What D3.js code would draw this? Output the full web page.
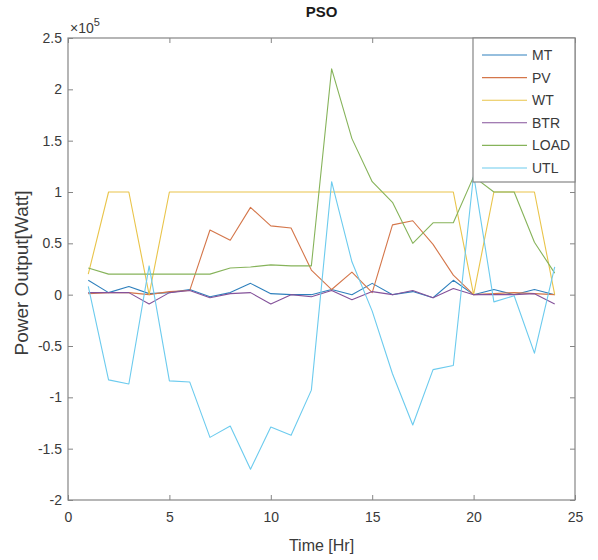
<!DOCTYPE html>
<html>
<head>
<meta charset="utf-8">
<script src="https://cdn.jsdelivr.net/npm/d3@7"></script>
<style>
  html, body { margin: 0; padding: 0; background: #fff; }
  svg { display: block; font-family: "Liberation Sans", Arial, Helvetica, sans-serif; }
</style>
</head>
<body>
<div id="chart"></div>
<script>
// ---- data (power in units of 10^5 W) ----
const hours = [1,2,3,4,5,6,7,8,9,10,11,12,13,14,15,16,17,18,19,20,21,22,23,24];
const seriesNames = ["MT", "PV", "WT", "BTR", "LOAD", "UTL"];
const MT   = [0.14,0.02,0.08,0.01,0.02,0.05,-0.02,0.02,0.11,0.01,0.00,0.00,0.05,0.00,0.11,0.00,0.03,-0.03,0.14,0.00,0.05,0.00,0.05,0.00];
const PV   = [0.01,0.02,0.02,0.00,0.03,0.04,0.63,0.53,0.85,0.67,0.65,0.24,0.05,0.22,0.02,0.68,0.72,0.49,0.19,0.00,0.01,0.02,0.01,0.00];
const WT   = [0.20,1.00,1.00,0.00,1.00,1.00,1.00,1.00,1.00,1.00,1.00,1.00,1.00,1.00,1.00,1.00,1.00,1.00,1.00,0.00,1.00,1.00,1.00,0.00];
const BTR  = [0.02,0.02,0.02,-0.09,0.02,0.04,-0.03,0.01,0.02,-0.09,0.00,-0.02,0.04,-0.05,0.03,0.00,0.04,-0.03,0.06,0.00,0.00,0.00,0.01,-0.09];
const LOAD = [0.26,0.20,0.20,0.20,0.20,0.20,0.20,0.26,0.27,0.29,0.28,0.28,2.20,1.52,1.10,0.90,0.50,0.70,0.70,1.15,1.00,1.00,0.51,0.21];
const UTL  = [0.08,-0.83,-0.87,0.28,-0.84,-0.85,-1.39,-1.28,-1.70,-1.29,-1.37,-0.93,1.10,0.32,-0.16,-0.77,-1.27,-0.73,-0.69,1.17,-0.07,-0.01,-0.57,0.27];
const xTicks = [0,5,10,15,20,25];
const yTicks = [-2,-1.5,-1,-0.5,0,0.5,1,1.5,2,2.5];
const yTickLabels = ["-2","-1.5","-1","-0.5","0","0.5","1","1.5","2","2.5"];
const colors = ["#2f80bd", "#d4764a", "#e9c44a", "#84529a", "#86b35a", "#6ccbee"];
const titleText = "PSO";
const xLabelText = "Time [Hr]";
const yLabelText = "Power Output[Watt]";

const seriesValues = [MT, PV, WT, BTR, LOAD, UTL];

// ---- layout ----
const W = 598, H = 560;
const margin = { left: 68, right: 23, top: 38, bottom: 60 };
const x = d3.scaleLinear().domain([0, 25]).range([margin.left, W - margin.right]);
const y = d3.scaleLinear().domain([-2, 2.5]).range([H - margin.bottom, margin.top]);

const svg = d3.select("#chart").append("svg").attr("width", W).attr("height", H);
svg.append("rect").attr("width", W).attr("height", H).attr("fill", "#fff");

const axisColor = "#858585";
const textColor = "#3a3a3a";

// axes
const xAxis = d3.axisBottom(x).tickValues(xTicks).tickSizeInner(-5).tickSizeOuter(0).tickPadding(12);
const yAxis = d3.axisLeft(y).tickValues(yTicks).tickFormat((d, i) => yTickLabels[i]).tickSizeInner(-5).tickSizeOuter(0).tickPadding(6);
const xTop = d3.axisTop(x).tickValues(xTicks).tickSizeInner(-5).tickSizeOuter(0).tickFormat("");
const yRight = d3.axisRight(y).tickValues(yTicks).tickSizeInner(-5).tickSizeOuter(0).tickFormat("");

function styleAxis(g) {
  g.select(".domain").remove();
  g.selectAll(".tick line").attr("stroke", axisColor).attr("stroke-width", 1);
  g.selectAll(".tick text").attr("fill", textColor).style("font-size", "14px")
    .style("font-family", "'Liberation Sans', Arial, sans-serif");
}

svg.append("g").attr("transform", `translate(0,${y(-2)})`).call(xAxis).call(styleAxis);
svg.append("g").attr("transform", `translate(${x(0)},0)`).call(yAxis).call(styleAxis);
svg.append("g").attr("transform", `translate(0,${y(2.5)})`).call(xTop).call(styleAxis);
svg.append("g").attr("transform", `translate(${x(25)},0)`).call(yRight).call(styleAxis);

// lines
const line = d3.line().x((d, i) => x(hours[i])).y(d => y(d));
const plot = svg.append("g");
seriesValues.forEach((vals, k) => {
  plot.append("path").datum(vals).attr("d", line)
    .attr("fill", "none").attr("stroke", colors[k]).attr("stroke-width", 1.1)
    .attr("stroke-linejoin", "round");
});

// box
svg.append("rect")
  .attr("x", x(0)).attr("y", y(2.5))
  .attr("width", x(25) - x(0)).attr("height", y(-2) - y(2.5))
  .attr("fill", "none").attr("stroke", axisColor).attr("stroke-width", 1.2);

// exponent
const expo = svg.append("text").attr("x", x(0) + 2).attr("y", y(2.5) - 5)
  .attr("fill", textColor).style("font-size", "14px");
expo.append("tspan").text("\u00d710");
expo.append("tspan").attr("dy", -7).style("font-size", "11px").text("5");

// title
svg.append("text").attr("x", (x(0) + x(25)) / 2).attr("y", 17)
  .attr("text-anchor", "middle").attr("fill", "#1a1a1a")
  .style("font-size", "15px").style("font-weight", "bold").text(titleText);

// axis labels
svg.append("text").attr("x", (x(0) + x(25)) / 2).attr("y", 551)
  .attr("text-anchor", "middle").attr("fill", textColor)
  .style("font-size", "16px").text(xLabelText);
svg.append("text").attr("transform", `translate(28,${(y(-2) + y(2.5)) / 2 + 4}) rotate(-90)`)
  .attr("text-anchor", "middle").attr("fill", textColor)
  .style("font-size", "19px").text(yLabelText);

// legend
const legX = 473, legY = 38, legW = 102, legH = 144;
const leg = svg.append("g");
leg.append("rect").attr("x", legX).attr("y", legY).attr("width", legW).attr("height", legH)
  .attr("fill", "#fff").attr("stroke", axisColor).attr("stroke-width", 1.2);
seriesNames.forEach((name, k) => {
  const yy = 55 + k * 22.6;
  leg.append("line").attr("x1", 482).attr("x2", 527).attr("y1", yy).attr("y2", yy)
    .attr("stroke", colors[k]).attr("stroke-width", 1.1);
  leg.append("text").attr("x", 532).attr("y", yy + 5).attr("fill", textColor)
    .style("font-size", "14px").text(name);
});
</script>
</body>
</html>
